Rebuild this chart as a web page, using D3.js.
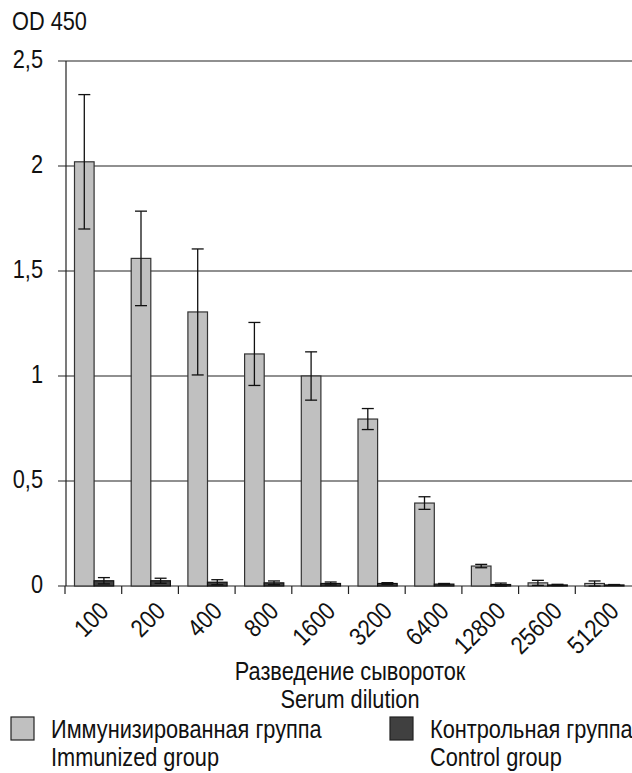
<!DOCTYPE html>
<html>
<head>
<meta charset="utf-8">
<script src="https://cdn.jsdelivr.net/npm/d3@7"></script>
<style>
  body { margin: 0; background: #fff; }
  svg text { font-family: "Liberation Sans", Arial, sans-serif; font-size: 25px; fill: #111; }
</style>
</head>
<body>
<div id="chart"></div>
<script>
// dilutions on the x axis
const dilutions = ['100', '200', '400', '800', '1600', '3200', '6400', '12800', '25600', '51200'];
// immunized group: mean OD450 and error
const immunized = [2.02, 1.56, 1.305, 1.105, 1.0, 0.795, 0.395, 0.095, 0.015, 0.012];
const immunizedErr = [0.32, 0.225, 0.30, 0.15, 0.115, 0.05, 0.03, 0.008, 0.012, 0.012];
// control group
const control = [0.025, 0.025, 0.018, 0.015, 0.012, 0.012, 0.009, 0.007, 0.005, 0.005];
const controlErr = [0.015, 0.012, 0.012, 0.009, 0.007, 0.004, 0.003, 0.007, 0.003, 0.002];
const yTicks = [0, 0.5, 1, 1.5, 2, 2.5];

const width = 632, height = 773;
const margin = { top: 61, right: 0, bottom: 187, left: 66 };
const narrow = 0.87; // squeeze to look like a narrow font

const svg = d3.select('#chart').append('svg')
  .attr('width', width)
  .attr('height', height);

// text helper, squeezed horizontally
function label(g, x, y, txt, anchor, rot) {
  return g.append('text')
    .attr('text-anchor', anchor || 'start')
    .attr('transform', `translate(${x},${y}) rotate(${rot || 0}) scale(${narrow},1)`)
    .text(txt);
}

const x = d3.scaleBand()
  .domain(dilutions)
  .range([65, width])
  .padding(0);

const xs = d3.scaleBand()
  .domain(['imm', 'ctrl'])
  .range([9.5, x.bandwidth() - 8]);

const y = d3.scaleLinear()
  .domain([0, 2.5])
  .range([height - margin.bottom, margin.top]);

// gridlines
svg.append('g')
  .selectAll('line')
  .data(yTicks)
  .join('line')
    .attr('x1', 58).attr('x2', width)
    .attr('y1', d => y(d)).attr('y2', d => y(d))
    .attr('stroke', '#222').attr('stroke-width', 1.2);

// y axis line + labels
svg.append('line')
  .attr('x1', margin.left).attr('x2', margin.left)
  .attr('y1', y(0)).attr('y2', y(2.5))
  .attr('stroke', '#222').attr('stroke-width', 1.2);

const yl = svg.append('g');
yTicks.forEach(t => label(yl, 43, y(t) + 7, String(t).replace('.', ','), 'end'));

// x axis ticks at band edges
const x0 = y(0);
svg.append('g')
  .selectAll('line')
  .data(dilutions)
  .join('line')
    .attr('x1', d => x(d)).attr('x2', d => x(d))
    .attr('y1', x0).attr('y2', x0 + 8)
    .attr('stroke', '#222').attr('stroke-width', 1.2);

const xl = svg.append('g');
dilutions.forEach(d => {
  label(xl, x(d) + x.bandwidth() / 2 + 4, x0 + 14, d, 'end', -45).attr('dy', '0.72em');
});

// bars
const groups = svg.append('g')
  .selectAll('g')
  .data(dilutions)
  .join('g')
    .attr('transform', d => `translate(${x(d)},0)`);

groups.append('rect')
  .attr('x', xs('imm'))
  .attr('width', xs.bandwidth())
  .attr('y', (d, i) => y(immunized[i]))
  .attr('height', (d, i) => y(0) - y(immunized[i]))
  .attr('fill', '#c0c0c0').attr('stroke', '#333').attr('stroke-width', 1.2);

groups.append('rect')
  .attr('x', xs('ctrl'))
  .attr('width', xs.bandwidth())
  .attr('y', (d, i) => y(control[i]))
  .attr('height', (d, i) => y(0) - y(control[i]))
  .attr('fill', '#404040').attr('stroke', '#111').attr('stroke-width', 1.2);

// error bars
function errBars(key, vals, errs) {
  const cx = xs(key) + xs.bandwidth() / 2;
  const g = groups.append('g').attr('stroke', '#111').attr('stroke-width', 1.3);
  g.append('line')
    .attr('x1', cx).attr('x2', cx)
    .attr('y1', (d, i) => y(vals[i] + errs[i]))
    .attr('y2', (d, i) => y(Math.max(0, vals[i] - errs[i])));
  g.append('line')
    .attr('x1', cx - 6).attr('x2', cx + 6)
    .attr('y1', (d, i) => y(vals[i] + errs[i]))
    .attr('y2', (d, i) => y(vals[i] + errs[i]));
  g.append('line')
    .attr('x1', cx - 6).attr('x2', cx + 6)
    .attr('y1', (d, i) => y(Math.max(0, vals[i] - errs[i])))
    .attr('y2', (d, i) => y(Math.max(0, vals[i] - errs[i])));
}
errBars('imm', immunized, immunizedErr);
errBars('ctrl', control, controlErr);

// titles
const tg = svg.append('g');
label(tg, 12, 30, 'OD 450');
label(tg, 350, 680, 'Разведение сывороток', 'middle');
label(tg, 350, 708, 'Serum dilution', 'middle');

// legend
const legend = [
  { ru: 'Иммунизированная группа', en: 'Immunized group', fill: '#c0c0c0', x: 11 },
  { ru: 'Контрольная группа', en: 'Control group', fill: '#404040', x: 390 }
];
legend.forEach(d => {
  const g = svg.append('g').attr('transform', `translate(${d.x},0)`);
  g.append('rect').attr('x', 0).attr('y', 717).attr('width', 23).attr('height', 23)
    .attr('fill', d.fill).attr('stroke', '#222').attr('stroke-width', 1.2);
  label(g, 40, 738, d.ru);
  label(g, 40, 766, d.en);
});
</script>
</body>
</html>
